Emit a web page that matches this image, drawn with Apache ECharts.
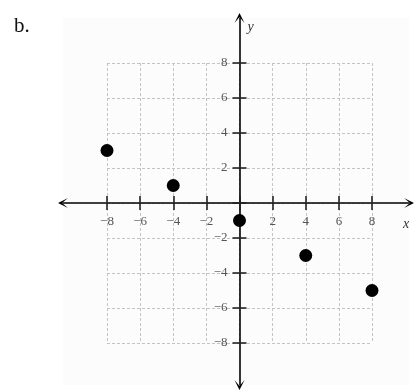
<!DOCTYPE html>
<html lang="en">
  <head>
    <meta charset="UTF-8">
    <title>b.</title>
    <style>
      html, body { margin: 0; padding: 0; background: #fff; }
      .chart { width: 420px; height: 392px; }
    </style>
  </head>
  <body>
    <div id="chart" class="chart"></div>
    <script src="https://cdn.jsdelivr.net/npm/echarts@6/dist/echarts.min.js"></script>
    <script type="text/javascript">
      // data
      var xValues = [-8, -4, 0, 4, 8];
      var yValues = [3, 1, -1, -3, -5];
      var axisMin = -8;
      var axisMax = 8;
      var tickStep = 2;

      // layout (px) of the dashed square and of the long arrow axes
      var gridBox = { left: 107, top: 63, width: 265, height: 280 };
      var arrowBox = { left: 63, right: 409, top: 18, bottom: 385 };
      var sx = gridBox.width / (axisMax - axisMin);
      var sy = gridBox.height / (axisMax - axisMin);
      var x0 = gridBox.left + gridBox.width / 2;
      var y0 = gridBox.top + gridBox.height / 2;

      var serif = '"Liberation Serif", "DejaVu Serif", serif';
      var labelFmt = function (v) {
        if (v === 0) return '';
        return String(v).replace('-', '\u2212');
      };
      var arrow = 'path://M0,10 L5,0 L10,10 L5,4 Z';

      var myChart = echarts.init(document.getElementById('chart'));

      // axes of the dashed square, pushed onto the zero lines with offset
      var tickAxis = function (extra) {
        var base = {
          gridIndex: 0,
          type: 'value',
          min: axisMin,
          max: axisMax,
          interval: tickStep,
          axisLine: { show: false, onZero: false },
          axisTick: { show: true, inside: false, length: 7, lineStyle: { color: '#222', width: 1.6 } },
          axisLabel: { show: false },
          splitLine: { show: false }
        };
        return Object.assign(base, extra);
      };

      var option = {
        backgroundColor: '#fff',
        animation: false,
        title: {
          text: 'b.',
          left: 9,
          top: 11,
          textStyle: { fontFamily: serif, fontSize: 21, fontWeight: 'normal', color: '#111' }
        },
        grid: [
          { left: gridBox.left, top: gridBox.top, width: gridBox.width, height: gridBox.height },
          {
            left: arrowBox.left, top: arrowBox.top,
            width: arrowBox.right - arrowBox.left, height: arrowBox.bottom - arrowBox.top,
            show: true, backgroundColor: '#fcfcfc', borderWidth: 0
          }
        ],
        xAxis: [
          tickAxis({
            position: 'bottom',
            offset: -gridBox.height / 2,
            axisLabel: {
              show: true, margin: 12, formatter: labelFmt,
              fontFamily: serif, fontSize: 13, color: '#555',
              showMinLabel: true, showMaxLabel: true
            },
            splitLine: { show: true, lineStyle: { color: '#c4c4c4', width: 1, type: [3, 2] } }
          }),
          tickAxis({ position: 'top', offset: -gridBox.height / 2 }),
          {
            gridIndex: 1,
            type: 'value',
            min: (arrowBox.left - x0) / sx,
            max: (arrowBox.right - x0) / sx,
            name: 'x',
            nameLocation: 'end',
            nameGap: -6,
            nameTextStyle: { fontFamily: serif, fontStyle: 'italic', fontSize: 14, color: '#333', verticalAlign: 'top', padding: [14, 0, 0, 0] },
            axisLine: {
              show: true, onZero: true, onZeroAxisIndex: 2,
              symbol: [arrow, arrow],
              symbolSize: [10, 12],
              lineStyle: { color: '#000', width: 1.6 }
            },
            axisTick: { show: false },
            axisLabel: { show: false },
            splitLine: { show: false }
          }
        ],
        yAxis: [
          tickAxis({
            position: 'left',
            offset: -gridBox.width / 2,
            axisLabel: {
              show: true, margin: 12, formatter: labelFmt,
              fontFamily: serif, fontSize: 13, color: '#555',
              showMinLabel: true, showMaxLabel: true
            },
            splitLine: { show: true, lineStyle: { color: '#c4c4c4', width: 1, type: [3, 2] } }
          }),
          tickAxis({ position: 'right', offset: -gridBox.width / 2 }),
          {
            gridIndex: 1,
            type: 'value',
            min: (y0 - arrowBox.bottom) / sy,
            max: (y0 - arrowBox.top) / sy,
            name: 'y',
            nameLocation: 'end',
            nameGap: -16,
            nameTextStyle: { fontFamily: serif, fontStyle: 'italic', fontSize: 14, color: '#333', align: 'left', verticalAlign: 'bottom', padding: [0, 0, 0, 8] },
            axisLine: {
              show: true, onZero: true, onZeroAxisIndex: 2,
              symbol: [arrow, arrow],
              symbolSize: [10, 12],
              lineStyle: { color: '#000', width: 1.6 }
            },
            axisTick: { show: false },
            axisLabel: { show: false },
            splitLine: { show: false }
          }
        ],
        series: [{
          type: 'scatter',
          xAxisIndex: 0,
          yAxisIndex: 0,
          symbol: 'circle',
          symbolSize: 13,
          clip: false,
          z: 10,
          itemStyle: { color: '#000', opacity: 1 },
          data: xValues.map(function (x, i) { return [x, yValues[i]]; })
        }]
      };

      myChart.setOption(option);
    </script>
  </body>
</html>
